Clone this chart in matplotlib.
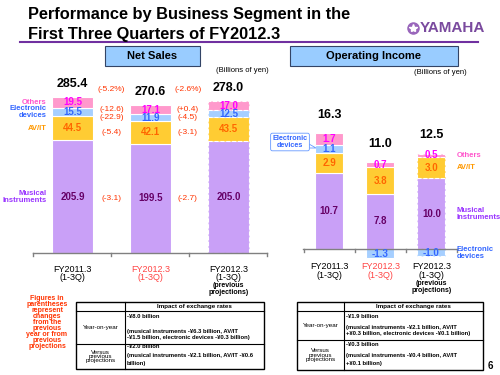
import matplotlib
matplotlib.use('Agg')
import matplotlib.pyplot as plt
from matplotlib.patches import Rectangle, Polygon
from matplotlib.lines import Line2D

plt.rcParams['font.family'] = ['Liberation Sans', 'DejaVu Sans']

# ---- data ----
periods = ['FY2011.3\n(1-3Q)', 'FY2012.3\n(1-3Q)', 'FY2012.3\n(1-3Q)']
segments = ['Musical\nInstruments', 'AV/IT', 'Electronic\ndevices', 'Others']

sales_musical = [205.9, 199.5, 205.0]
sales_avit = [44.5, 42.1, 43.5]
sales_elec = [15.5, 11.9, 12.5]
sales_others = [19.5, 17.1, 17.0]
sales_total = [285.4, 270.6, 278.0]
sales_chg_yoy = [-3.1, -5.4, -22.9, -12.6]     # % change by segment
sales_chg_proj = [-2.7, -3.1, -4.5, 0.4]
sales_total_chg = [-5.2, -2.6]

oi_musical = [10.7, 7.8, 10.0]
oi_avit = [2.9, 3.8, 3.0]
oi_elec = [1.1, -1.3, -1.0]
oi_others = [1.7, 0.7, 0.5]
oi_total = [16.3, 11.0, 12.5]

table_sales = [
    ('Year-on-year', ['-¥8.0 billion', '(musical instruments -¥6.3 billion, AV/IT',
                      '-¥1.5 billion, electronic devices -¥0.3 billion)']),
    ('Versus\nprevious\nprojections', ['-¥2.0 billion', '(musical instruments -¥2.1 billion, AV/IT -¥0.6',
                                      'billion)']),
]
table_oi = [
    ('Year-on-year', ['-¥1.9 billion', '(musical instruments -¥2.1 billion, AV/IT',
                      '+¥0.3 billion, electronic devices -¥0.1 billion)']),
    ('Versus\nprevious\nprojections', ['-¥0.3 billion', '(musical instruments -¥0.4 billion, AV/IT',
                                      '+¥0.1 billion)']),
]

seg_colors = ['#c9a0f7', '#ffcc33', '#a6cfff', '#ff99cc']
val_colors = ['#660066', '#ff6600', '#3366ff', '#ff00ff']
name_colors = ['#9933ff', '#ff9900', '#3366ff', '#ff55cc']
red = '#ff3300'

W, H = 500, 375
fig = plt.figure(figsize=(5, 3.75), dpi=100)


def ftext(x, y, s, **kw):
    fig.text(x / W, 1 - y / H, s, **kw)


def fline(xs, ys, **kw):
    fig.add_artist(Line2D([x / W for x in xs], [1 - y / H for y in ys], **kw))


def frect(x0, y0, x1, y1, **kw):
    fig.add_artist(Rectangle((x0 / W, 1 - y1 / H), (x1 - x0) / W, (y1 - y0) / H, **kw))


# ---- header ----
ftext(28, 14, 'Performance by Business Segment in the', fontsize=11.8, fontweight='bold', va='center')
ftext(28, 34, 'First Three Quarters of FY2012.3', fontsize=11.8, fontweight='bold', va='center')
fline([20, 478], [42, 42], color='#7030a0', lw=1.5)
fig.add_artist(Line2D([413 / W], [1 - 28 / H], marker='o', ms=8, color='#9966bb', mec='#9966bb'))
fig.add_artist(Line2D([413 / W], [1 - 28 / H], marker='*', ms=6, color='white', mec='white'))
ftext(420, 28, 'YAMAHA', fontsize=11, fontweight='bold', color='#7a4a9e', va='center')

frect(105, 46, 200, 66, fc='#99ccff', ec='#334466', lw=0.8)
ftext(152, 56, 'Net Sales', fontsize=8, fontweight='bold', ha='center', va='center')
frect(290, 46, 458, 66, fc='#99ccff', ec='#334466', lw=0.8)
ftext(374, 56, 'Operating Income', fontsize=8, fontweight='bold', ha='center', va='center')
ftext(242, 71, '(Billions of yen)', fontsize=5.5, ha='center', va='center')
ftext(440, 73, '(Billions of yen)', fontsize=5.5, ha='center', va='center')


def draw_stack(ax, data, width, lbl_fs):
    for i in range(3):
        pos = 0
        for k, vals in enumerate(data):
            v = vals[i]
            bottom = pos if v >= 0 else 0
            ls = '--' if i == 2 else '-'
            ax.bar(i, v, width, bottom=bottom, color=seg_colors[k],
                   edgecolor='white', lw=0.8, linestyle=ls)
            ax.text(i, bottom + v / 2, f'{v:.1f}', ha='center', va='center',
                    fontsize=lbl_fs, fontweight='bold', color=val_colors[k])
            if v >= 0:
                pos += v


def base_axis(ax, tick_len):
    ax.axis('off')
    ax.plot(ax.get_xlim(), [0, 0], color='#808080', lw=1, clip_on=False)
    for t in [-0.5, 0.5, 1.5, 2.5]:
        ax.plot([t, t], [0, -tick_len], color='#808080', lw=1, clip_on=False)


# ---- net sales ----
axL = fig.add_axes([33 / W, 1 - 253 / H, (267.5 - 33) / W, (253 - 80) / H])
axL.set_xlim(-0.506, 2.5)
axL.set_ylim(0, 173 / 0.5466)
sales = [sales_musical, sales_avit, sales_elec, sales_others]
draw_stack(axL, sales, 0.525, 7)
base_axis(axL, 5.5)
for i, t in enumerate(sales_total):
    axL.text(i, t + 24, f'{t:.1f}', ha='center', va='center', fontsize=9, fontweight='bold')
pos = 0
for k, vals in enumerate(sales):
    mid = pos + vals[0] / 2
    axL.text(-0.33, mid, segments[k], ha='right', va='center', fontsize=5.5,
             fontweight='bold', color=name_colors[k], linespacing=1.0, clip_on=False)
    mid2 = sum(s[1] for s in sales[:k]) + vals[1] / 2
    axL.text(0.5, mid2, f'({sales_chg_yoy[k]:.1f})', ha='center', va='center',
             fontsize=6, color=red)
    axL.text(1.48, mid2, f'({sales_chg_proj[k]:+.1f})', ha='center', va='center',
             fontsize=6, color=red)
    pos += vals[0]
axL.text(0.5, 300, f'({sales_total_chg[0]:.1f}%)', ha='center', va='center', fontsize=6, color=red)
axL.text(1.48, 300, f'({sales_total_chg[1]:.1f}%)', ha='center', va='center', fontsize=6, color=red)
for i, p in enumerate(periods):
    axL.text(i, -37, p, ha='center', va='center', fontsize=6.5, linespacing=0.9,
             color='#ff4444' if i == 1 else 'black', clip_on=False)
axL.text(2, -66, '(previous\nprojections)', ha='center', va='center', fontsize=5,
         fontweight='bold', linespacing=0.9, clip_on=False)

# ---- operating income ----
axR = fig.add_axes([303 / W, 1 - 263 / H, (457 - 303) / W, (263 - 110) / H])
axR.set_xlim(-0.51, 2.5)
axR.set_ylim(-14 / 7.06, 139 / 7.06)
oi = [oi_musical, oi_avit, oi_elec, oi_others]
draw_stack(axR, oi, 0.55, 7)
base_axis(axR, 0.42)
for i, t in enumerate(oi_total):
    top = sum(v[i] for v in oi if v[i] > 0)
    axR.text(i, top + 2.6, f'{t:.1f}', ha='center', va='center', fontsize=9, fontweight='bold')
for k, vals in enumerate(oi):
    v = vals[2]
    bottom = sum(x[2] for x in oi[:k] if x[2] > 0) if v >= 0 else 0
    axR.text(2.49, bottom + v / 2, segments[k], ha='left', va='center', fontsize=5.5,
             fontweight='bold', color=name_colors[k], linespacing=1.0, clip_on=False)
for i, p in enumerate(periods):
    axR.text(i, -3.1, p, ha='center', va='center', fontsize=6.5, linespacing=0.9,
             color='#ff4444' if i == 1 else 'black', clip_on=False)
axR.text(2, -5.4, '(previous\nprojections)', ha='center', va='center', fontsize=5,
         fontweight='bold', linespacing=0.9, clip_on=False)

# callout for electronic devices in first bar
fig.add_artist(Polygon([(309 / W, 1 - 144 / H), (316 / W, 1 - 148 / H), (309 / W, 1 - 148 / H)],
                       closed=True, fc='white', ec='#6699ff', lw=0.6, zorder=5))
ftext(290, 142, 'Electronic\ndevices', fontsize=5.2, fontweight='bold', color='#3366ff',
      ha='center', va='center', linespacing=1.0,
      bbox=dict(boxstyle='round,pad=0.25', fc='white', ec='#6699ff', lw=0.6), zorder=6)

# ---- notes ----
ftext(47, 323, 'Figures in\nparentheses\nrepresent\nchanges\nfrom the\nprevious\nyear or from\nprevious\nprojections',
      fontsize=5, fontweight='bold', color=red, ha='center', va='center', linespacing=0.8)


def draw_table(x0, xs, x1, ys, rows, text_ys):
    frect(x0, ys[0], x1, ys[-1], fc='none', ec='black', lw=1)
    fline([xs, xs], [ys[0], ys[-1]], color='black', lw=0.8)
    for y in ys[1:-1]:
        fline([x0, x1], [y, y], color='black', lw=0.8)
    ftext((xs + x1) / 2, (ys[0] + ys[1]) / 2, 'Impact of exchange rates', fontsize=4.5,
          fontweight='bold', ha='center', va='center')
    for r, (name, lines) in enumerate(rows):
        ftext((x0 + xs) / 2, (ys[r + 1] + ys[r + 2]) / 2, name, fontsize=4.5,
              ha='center', va='center', linespacing=0.85)
        for ln, ty in zip(lines, text_ys[r]):
            ftext(xs + 2, ty, ln, fontsize=4.2, fontweight='bold', ha='left', va='center')


draw_table(76, 125, 264, [302, 311, 344, 369], table_sales, [[317, 331, 338], [347, 356, 363]])
draw_table(297, 344, 483, [302, 311, 340, 370], table_oi, [[316, 327, 333], [344, 356, 364]])

ftext(490, 366, '6', fontsize=7, fontweight='bold', ha='center', va='center')

fig.savefig('out.png', dpi=100)
